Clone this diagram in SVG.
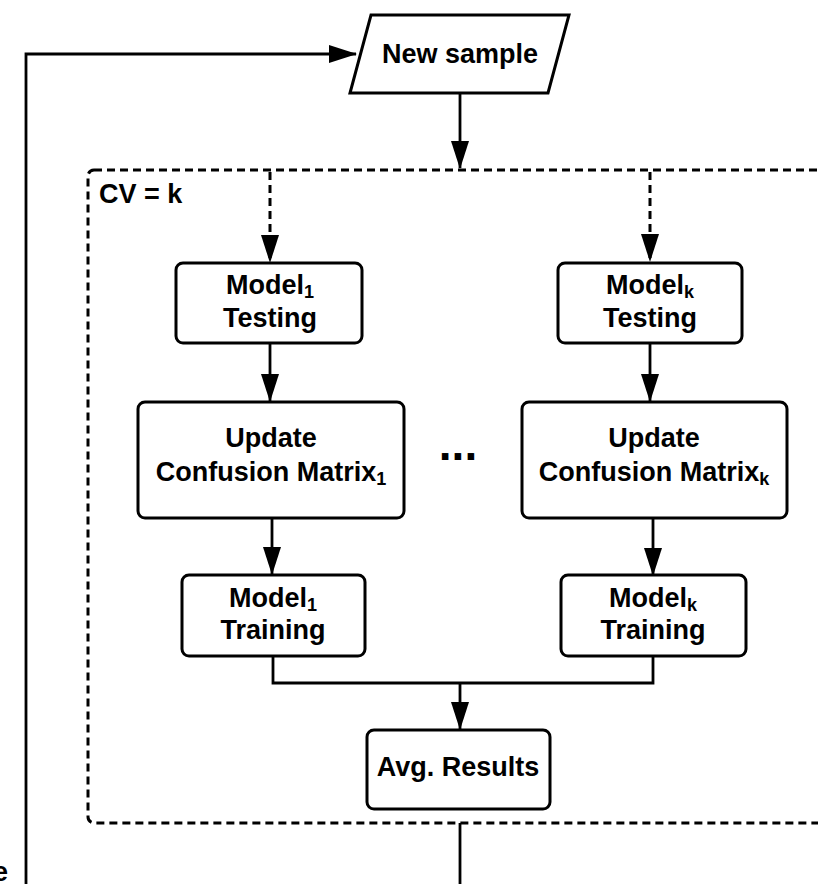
<svg xmlns="http://www.w3.org/2000/svg" width="818" height="884" viewBox="0 0 818 884">
  <style>
    .box { fill: #fff; stroke: #000; stroke-width: 3; }
    .lbl { font-family: "Liberation Sans", Arial, sans-serif; font-weight: bold; font-size: 27px; fill: #000; text-anchor: middle; }
    .sub { font-size: 18px; }
    .line { fill: none; stroke: #000; stroke-width: 2.8; }
    .dash { fill: none; stroke: #000; stroke-width: 3; stroke-dasharray: 8 5; }
  </style>
  <defs>
    <marker id="arr" markerUnits="userSpaceOnUse" markerWidth="28" markerHeight="20" refX="27" refY="10" orient="auto">
      <path d="M0,1 L28,10 L0,19 Z" fill="#000"/>
    </marker>
  </defs>

  <g id="container">
    <rect x="88" y="170" width="760" height="653" rx="6" fill="none" stroke="#000" stroke-width="3" stroke-dasharray="8 5"/>
    <text class="lbl" x="99" y="203" style="text-anchor:start">CV = k</text>
  </g>

  <g id="connectors">
    <path class="line" d="M26,884 V54 H356" marker-end="url(#arr)"/>
    <path class="line" d="M460,93 V168" marker-end="url(#arr)"/>
    <path class="dash" d="M270,172 V262" marker-end="url(#arr)"/>
    <path class="dash" d="M650,172 V261" marker-end="url(#arr)"/>
    <path class="line" d="M270,343 V401" marker-end="url(#arr)"/>
    <path class="line" d="M650,343 V401" marker-end="url(#arr)"/>
    <path class="line" d="M272,518 V574" marker-end="url(#arr)"/>
    <path class="line" d="M653,518 V575" marker-end="url(#arr)"/>
    <path class="line" d="M273,656 V683 H653 V656"/>
    <path class="line" d="M460,683 V729" marker-end="url(#arr)"/>
    <path class="line" d="M460,823 V884"/>
  </g>

  <g id="new-sample">
    <polygon class="box" points="371,15 569,15 548,93 350,93"/>
    <text class="lbl" x="460" y="63">New sample</text>
  </g>

  <g id="model1-testing">
    <rect class="box" x="176" y="263" width="186" height="80" rx="7"/>
    <text class="lbl" x="270" y="294">Model<tspan class="sub" dy="4">1</tspan></text>
    <text class="lbl" x="270" y="327">Testing</text>
  </g>

  <g id="modelk-testing">
    <rect class="box" x="558" y="263" width="184" height="80" rx="7"/>
    <text class="lbl" x="650" y="294">Model<tspan class="sub" dy="4">k</tspan></text>
    <text class="lbl" x="650" y="327">Testing</text>
  </g>

  <g id="update1">
    <rect class="box" x="138" y="402" width="266" height="116" rx="7"/>
    <text class="lbl" x="271" y="447">Update</text>
    <text class="lbl" x="271" y="481">Confusion Matrix<tspan class="sub" dy="4">1</tspan></text>
  </g>

  <g id="ellipsis">
    <text class="lbl" x="458" y="460" style="font-size:46px">...</text>
  </g>

  <g id="updatek">
    <rect class="box" x="522" y="402" width="265" height="116" rx="7"/>
    <text class="lbl" x="654" y="447">Update</text>
    <text class="lbl" x="654" y="481">Confusion Matrix<tspan class="sub" dy="4">k</tspan></text>
  </g>

  <g id="model1-training">
    <rect class="box" x="182" y="575" width="183" height="81" rx="7"/>
    <text class="lbl" x="273" y="607">Model<tspan class="sub" dy="4">1</tspan></text>
    <text class="lbl" x="273" y="639">Training</text>
  </g>

  <g id="modelk-training">
    <rect class="box" x="561" y="575" width="185" height="81" rx="7"/>
    <text class="lbl" x="653" y="607">Model<tspan class="sub" dy="4">k</tspan></text>
    <text class="lbl" x="653" y="639">Training</text>
  </g>

  <g id="avg-results">
    <rect class="box" x="367" y="730" width="183" height="79" rx="7"/>
    <text class="lbl" x="458" y="776">Avg. Results</text>
  </g>

  <g id="edge-text">
    <text class="lbl" x="8" y="881" style="text-anchor:end">e</text>
  </g>
</svg>
